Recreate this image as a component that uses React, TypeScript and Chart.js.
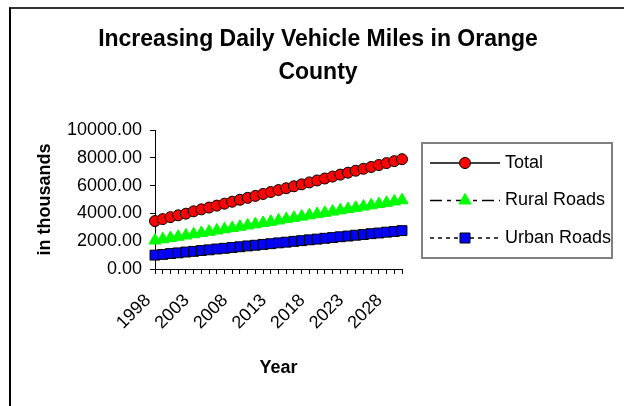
import React, { useEffect, useRef } from 'react';
import { Chart, registerables } from 'chart.js';

Chart.register(...registerables);

const years = [
  '1998', '1999', '2000', '2001', '2002', '2003', '2004', '2005', '2006', '2007', '2008',
  '2009', '2010', '2011', '2012', '2013', '2014', '2015', '2016', '2017', '2018', '2019',
  '2020', '2021', '2022', '2023', '2024', '2025', '2026', '2027', '2028', '2029', '2030',
];
const xTickLabels = ['1998', '2003', '2008', '2013', '2018', '2023', '2028'];

const totalValues = [
  3450, 3590, 3730, 3860, 3980, 4150, 4290, 4420, 4560, 4700, 4840,
  4980, 5120, 5260, 5400, 5540, 5680, 5810, 5950, 6090, 6230, 6370,
  6510, 6650, 6790, 6930, 7070, 7210, 7340, 7480, 7620, 7760, 7900,
];
const ruralValues = [
  2050, 2140, 2230, 2320, 2410, 2500, 2590, 2680, 2770, 2860, 2950,
  3040, 3130, 3220, 3310, 3400, 3490, 3590, 3680, 3770, 3860, 3950,
  4040, 4130, 4220, 4310, 4400, 4490, 4580, 4670, 4760, 4860, 4950,
];
const urbanValues = [
  1000, 1050, 1110, 1160, 1220, 1270, 1330, 1380, 1440, 1490, 1550,
  1600, 1660, 1710, 1770, 1820, 1880, 1930, 1990, 2040, 2100, 2150,
  2210, 2260, 2320, 2370, 2430, 2480, 2540, 2590, 2650, 2700, 2760,
];

const seriesNames = ['Total', 'Rural Roads', 'Urban Roads'];
const titleLines = ['Increasing Daily Vehicle Miles in Orange', 'County'];
const yAxisTitle = 'in thousands';
const xAxisTitle = 'Year';

const FONT = '"Liberation Sans", Arial, Helvetica, sans-serif';

type MarkerKind = 'circle' | 'triangle' | 'rect';

function drawMarker(ctx: CanvasRenderingContext2D, kind: MarkerKind, x: number, y: number, fill: string, stroke: string) {
  ctx.save();
  ctx.fillStyle = fill;
  ctx.strokeStyle = stroke;
  ctx.lineWidth = 1;
  ctx.setLineDash([]);
  ctx.beginPath();
  if (kind === 'circle') {
    ctx.arc(x, y, 5.5, 0, Math.PI * 2);
  } else if (kind === 'triangle') {
    const r = 7;
    ctx.moveTo(x, y - r);
    ctx.lineTo(x + r * 0.866, y + r * 0.5);
    ctx.lineTo(x - r * 0.866, y + r * 0.5);
    ctx.closePath();
  } else {
    ctx.rect(x - 5, y - 5, 10, 10);
  }
  ctx.fill();
  ctx.stroke();
  ctx.restore();
}

export default function App() {
  const ref = useRef<HTMLCanvasElement>(null);

  useEffect(() => {
    const canvas = ref.current;
    if (!canvas) return;

    const markerKinds: MarkerKind[] = ['circle', 'triangle', 'rect'];

    const titlePlugin = {
      id: 'excelTitle',
      afterDraw(chart: any) {
        const { ctx } = chart;
        ctx.save();
        ctx.font = `bold 23px ${FONT}`;
        ctx.fillStyle = '#000';
        ctx.textAlign = 'center';
        ctx.textBaseline = 'middle';
        titleLines.forEach((t, i) => ctx.fillText(t, 318, 40 + i * 33));
        ctx.restore();
      },
    };

    const legendPlugin = {
      id: 'excelLegend',
      afterDraw(chart: any) {
        const { ctx, chartArea } = chart;
        const left = chartArea.right + 20;
        const top = 143;
        const w = 190;
        const h = 115;
        ctx.save();
        ctx.fillStyle = '#fff';
        ctx.fillRect(left, top, w, h);
        ctx.strokeStyle = '#808080';
        ctx.lineWidth = 2;
        ctx.strokeRect(left, top, w, h);
        chart.data.datasets.forEach((ds: any, i: number) => {
          const y = top + 20 + i * 37.5;
          ctx.strokeStyle = '#000';
          ctx.lineWidth = 1.5;
          ctx.setLineDash(ds.borderDash || []);
          ctx.beginPath();
          ctx.moveTo(left + 8, y);
          ctx.lineTo(left + 78, y);
          ctx.stroke();
          ctx.setLineDash([]);
          drawMarker(ctx, markerKinds[i], left + 43, y, ds.pointBackgroundColor, ds.pointBorderColor);
          ctx.fillStyle = '#000';
          ctx.font = `18px ${FONT}`;
          ctx.textAlign = 'left';
          ctx.textBaseline = 'middle';
          ctx.fillText(ds.label, left + 83, y);
        });
        ctx.restore();
      },
    };

    const chart = new Chart(canvas, {
      type: 'line',
      data: {
        labels: years,
        datasets: [
          {
            label: seriesNames[0],
            data: totalValues,
            borderColor: '#000',
            borderWidth: 1,
            borderDash: [],
            pointStyle: 'circle',
            pointRadius: 5.5,
            pointBackgroundColor: '#FF0000',
            pointBorderColor: '#000',
            pointBorderWidth: 1,
          },
          {
            label: seriesNames[1],
            data: ruralValues,
            borderColor: '#000',
            borderWidth: 1,
            borderDash: [12, 5, 4, 5],
            pointStyle: 'triangle',
            pointRadius: 7,
            pointBackgroundColor: '#00FF00',
            pointBorderColor: '#00FF00',
            pointBorderWidth: 1,
          },
          {
            label: seriesNames[2],
            data: urbanValues,
            borderColor: '#000',
            borderWidth: 1,
            borderDash: [4, 4],
            pointStyle: 'rect',
            pointRadius: 7,
            pointBackgroundColor: '#0000FF',
            pointBorderColor: '#000',
            pointBorderWidth: 1,
          },
        ],
      },
      options: {
        responsive: false,
        animation: false,
        devicePixelRatio: 1,
        layout: { padding: { left: 20, right: 222, top: 130, bottom: 20 } },
        plugins: {
          legend: { display: false },
          title: { display: false },
          tooltip: { enabled: false },
        },
        scales: {
          x: {
            type: 'category',
            offset: false,
            afterFit: (scale: any) => { scale.height = 117; },
            grid: { drawOnChartArea: false, drawTicks: true, tickLength: 5, color: '#000' },
            border: { display: true, color: '#000', width: 1 },
            ticks: {
              autoSkip: false,
              maxRotation: 45,
              minRotation: 45,
              padding: 16,
              labelOffset: -7,
              color: '#000',
              font: { family: FONT, size: 18 },
              callback: (_v: any, idx: number) => (xTickLabels.includes(years[idx]) ? years[idx] : ''),
            },
            title: {
              display: true,
              text: xAxisTitle,
              color: '#000',
              font: { family: FONT, size: 18, weight: 'bold' },
              padding: { top: 4, bottom: 7 },
            },
          },
          y: {
            min: 0,
            max: 10000,
            afterFit: (scale: any) => { scale.width = 135; },
            grid: { drawOnChartArea: false, drawTicks: true, tickLength: 5, color: '#000' },
            border: { display: true, color: '#000', width: 1 },
            ticks: {
              stepSize: 2000,
              padding: 8,
              color: '#000',
              font: { family: FONT, size: 18 },
              callback: (v: any) => Number(v).toFixed(2),
            },
            title: {
              display: true,
              text: yAxisTitle,
              color: '#000',
              font: { family: FONT, size: 18, weight: 'bold' },
              padding: { top: 14, bottom: 0 },
            },
          },
        },
      },
      plugins: [titlePlugin, legendPlugin],
    } as any);

    return () => chart.destroy();
  }, []);

  return (
    <div style={{ position: 'fixed', left: 0, top: 0, width: 624, height: 406, overflow: 'hidden', background: '#fff' }}>
      <div
        style={{
          position: 'absolute', left: 9, top: 7, width: 800, height: 600,
          borderLeft: '2px solid #000', borderTop: '2px solid #333',
        }}
      />
      <canvas ref={ref} width={624} height={406} style={{ position: 'absolute', left: 0, top: 0 }} />
    </div>
  );
}
